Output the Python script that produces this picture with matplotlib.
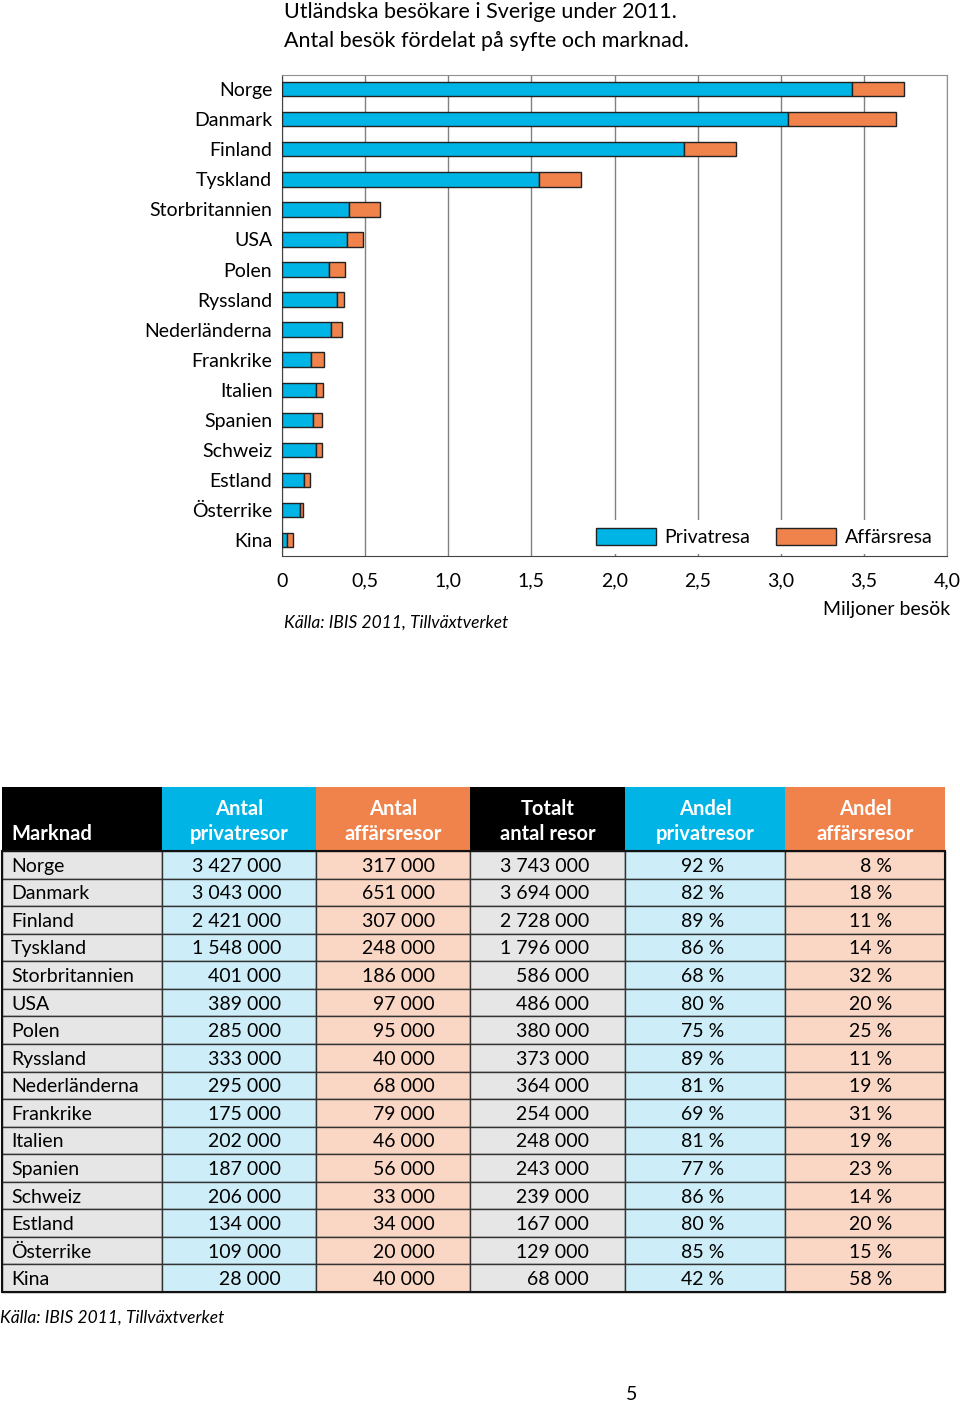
import matplotlib.pyplot as plt
from matplotlib.patches import Rectangle, Patch

plt.rcParams['font.family'] = ['Lato', 'DejaVu Sans']

markets = ["Norge", "Danmark", "Finland", "Tyskland", "Storbritannien", "USA", "Polen",
           "Ryssland", "Nederländerna", "Frankrike", "Italien", "Spanien", "Schweiz",
           "Estland", "Österrike", "Kina"]
privat = [3427000, 3043000, 2421000, 1548000, 401000, 389000, 285000, 333000,
          295000, 175000, 202000, 187000, 206000, 134000, 109000, 28000]
affar = [317000, 651000, 307000, 248000, 186000, 97000, 95000, 40000,
         68000, 79000, 46000, 56000, 33000, 34000, 20000, 40000]
totalt = [3743000, 3694000, 2728000, 1796000, 586000, 486000, 380000, 373000,
          364000, 254000, 248000, 243000, 239000, 167000, 129000, 68000]
andel_priv = [92, 82, 89, 86, 68, 80, 75, 89, 81, 69, 81, 77, 86, 80, 85, 42]
andel_aff = [8, 18, 11, 14, 32, 20, 25, 11, 19, 31, 19, 23, 14, 20, 15, 58]
xticks = [0, 0.5, 1.0, 1.5, 2.0, 2.5, 3.0, 3.5, 4.0]

BLUE = "#00b4e6"
ORANGE = "#f0824c"
W, H = 960, 1402

fig = plt.figure(figsize=(W / 100, H / 100), dpi=100)

# ---- bar chart ----
ax = fig.add_axes([282 / W, 1 - 556 / H, (947 - 282) / W, (556 - 75) / H])
ypos = list(range(len(markets)))
priv_m = [v / 1e6 for v in privat]
aff_m = [v / 1e6 for v in affar]
ax.barh(ypos, priv_m, height=0.48, color=BLUE, edgecolor="#222222", linewidth=1, zorder=3)
ax.barh(ypos, aff_m, left=priv_m, height=0.48, color=ORANGE, edgecolor="#222222",
        linewidth=1, zorder=3)
ax.set_xlim(0, 4.0)
ax.set_ylim(15.53, -0.47)
ax.set_yticks(ypos)
ax.set_yticklabels(markets, fontsize=14)
ax.set_xticks(xticks)
ax.set_xticklabels([f"{t:.1f}".replace(".", ",") if t else "0" for t in xticks], fontsize=14)
ax.tick_params(length=0, axis="x", pad=12)
ax.tick_params(length=0, axis="y", pad=7)
ax.grid(axis="x", color="#808080", linewidth=1, zorder=1)
for s in ["top", "right"]:
    ax.spines[s].set_color("#909090")
for s in ["left", "bottom"]:
    ax.spines[s].set_color("#444444")
leg = ax.legend(handles=[Patch(facecolor=BLUE, edgecolor="#222222", label="Privatresa"),
                         Patch(facecolor=ORANGE, edgecolor="#222222", label="Affärsresa")],
                loc="lower right", bbox_to_anchor=(0.993, 0.0), ncol=2, fontsize=14,
                frameon=True, fancybox=False, framealpha=1, edgecolor="white",
                handlelength=3.1, handleheight=0.95, handletextpad=0.45, columnspacing=1.3,
                borderaxespad=0.1, borderpad=0.4)
leg.set_zorder(5)
leg.get_frame().set_linewidth(0)

fig.text(284 / W, 1 - 2 / H, "Utländska besökare i Sverige under 2011.\nAntal besök fördelat på syfte och marknad.",
         fontsize=15.5, va="top", ha="left", linespacing=1.55)
fig.text(950 / W, 1 - 609 / H, "Miljoner besök", fontsize=14, ha="right", va="center")
fig.text(284 / W, 1 - 623 / H, "Källa: IBIS 2011, Tillväxtverket", fontsize=12.5,
         style="italic", ha="left", va="center")

# ---- table ----
tax = fig.add_axes([0, 0, 1, 1])
tax.set_xlim(0, W)
tax.set_ylim(H, 0)
tax.axis("off")

col_edges = [2, 162, 316, 470, 625, 785, 945]
head_top, head_bot, tab_bot = 787, 851, 1292
row_h = (tab_bot - head_bot) / len(markets)
headers = ["Marknad", "Antal\nprivatresor", "Antal\naffärsresor", "Totalt\nantal resor",
           "Andel\nprivatresor", "Andel\naffärsresor"]
head_cols = ["black", BLUE, ORANGE, "black", BLUE, ORANGE]
body_cols = ["#e6e6e6", "#cdeef9", "#fad6c5", "#e6e6e6", "#cdeef9", "#fad6c5"]
right_edges = [None, 281, 435, 589, 724, 892]


def fmt(v):
    return f"{v:,}".replace(",", " ")


for c in range(6):
    x0, x1 = col_edges[c], col_edges[c + 1]
    tax.add_patch(Rectangle((x0, head_top), x1 - x0, head_bot - head_top,
                            facecolor=head_cols[c], edgecolor="none"))
    if c == 0:
        tax.text(11, 834, headers[c], color="white", fontsize=14.5, fontweight="bold",
                 ha="left", va="center")
    else:
        tax.text((x0 + x1) / 2, 821.5, headers[c], color="white", fontsize=14.5,
                 fontweight="bold", ha="center", va="center", linespacing=1.3)

for r, m in enumerate(markets):
    y0 = head_bot + r * row_h
    yc = y0 + row_h / 2 + 1.5
    vals = [m, fmt(privat[r]), fmt(affar[r]), fmt(totalt[r]),
            f"{andel_priv[r]} %", f"{andel_aff[r]} %"]
    for c in range(6):
        x0, x1 = col_edges[c], col_edges[c + 1]
        tax.add_patch(Rectangle((x0, y0), x1 - x0, row_h, facecolor=body_cols[c],
                                edgecolor="#333333", linewidth=1))
        if c == 0:
            tax.text(11, yc, vals[c], fontsize=14, ha="left", va="center")
        else:
            tax.text(right_edges[c], yc, vals[c], fontsize=14, ha="right", va="center")

tax.add_patch(Rectangle((col_edges[0], head_bot), col_edges[-1] - col_edges[0],
                        tab_bot - head_bot, facecolor="none", edgecolor="#111111", linewidth=1.5))

tax.text(0, 1318, "Källa: IBIS 2011, Tillväxtverket", fontsize=12.5, style="italic",
         ha="left", va="center")
tax.text(632, 1394, "5", fontsize=14, ha="center", va="center")

fig.savefig("out.png", dpi=100)
